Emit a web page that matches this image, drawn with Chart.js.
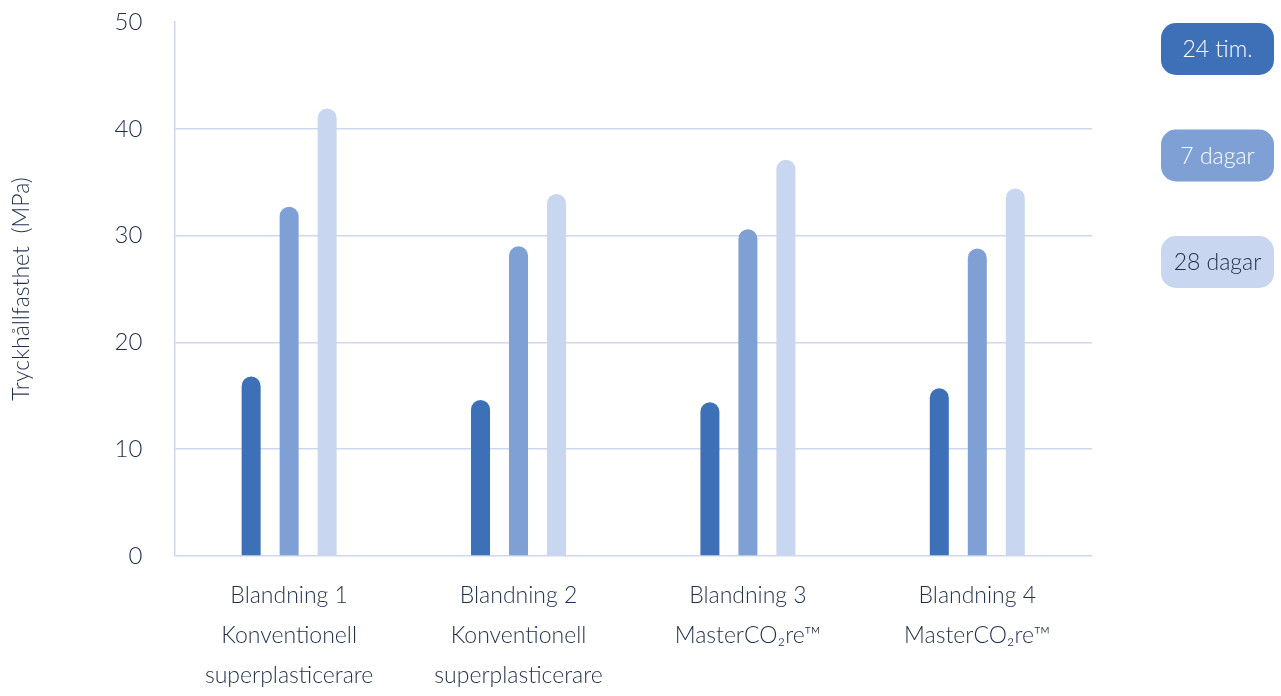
<!DOCTYPE html>
<html>
<head>
<meta charset="utf-8">
<script src="https://cdn.jsdelivr.net/npm/chart.js@4"></script>
<style>
    html, body { margin: 0; padding: 0; background: #ffffff; }
    .chart-wrap { position: relative; width: 1281px; height: 696px; }
</style>
</head>
<body>
<div class="chart-wrap"><canvas id="strengthChart"></canvas></div>
<script>
const categories = [
    ['Blandning 1', 'Konventionell', 'superplasticerare'],
    ['Blandning 2', 'Konventionell', 'superplasticerare'],
    ['Blandning 3', 'MasterCO\u2082re\u2122'],
    ['Blandning 4', 'MasterCO\u2082re\u2122']
];
const seriesLabels = ['24 tim.', '7 dagar', '28 dagar'];
const values24h = [16.8, 14.6, 14.4, 15.7];
const values7d = [32.7, 29.0, 30.6, 28.8];
const values28d = [41.9, 33.9, 37.1, 34.4];
const yTicks = [0, 10, 20, 30, 40, 50];

const textColor = '#1f2e4b';
const gridColor = '#cdd8ef';
const barColors = ['#3e70b7', '#7fa0d4', '#c8d6ef'];
const legendText = ['#ffffff', '#ffffff', '#1f2e4b'];
const fontFamily = 'Lato, "Open Sans", sans-serif';

// pill shaped legend on the right side
const pillLegend = {
    id: 'pillLegend',
    afterDraw(chart) {
        const ctx = chart.ctx;
        const x = 1161, w = 113, h = 52;
        ctx.save();
        chart.data.datasets.forEach((ds, i) => {
            const y = 23 + i * 106.5;
            ctx.beginPath();
            ctx.roundRect(x, y, w, h, 15);
            ctx.fillStyle = ds.backgroundColor;
            ctx.fill();
            ctx.fillStyle = legendText[i];
            ctx.font = '300 23px ' + fontFamily;
            ctx.textAlign = 'center';
            ctx.textBaseline = 'middle';
            ctx.fillText(ds.label, x + w / 2, y + h / 2 + 1);
        });
        ctx.restore();
    }
};

const makeSet = (label, data, color) => ({
    label: label,
    data: data,
    backgroundColor: color,
    hoverBackgroundColor: color,
    borderRadius: { topLeft: 10, topRight: 10, bottomLeft: 0, bottomRight: 0 },
    borderSkipped: false,
    barPercentage: 0.5,
    categoryPercentage: 0.497
});

new Chart(document.getElementById('strengthChart'), {
    type: 'bar',
    data: {
        labels: categories,
        datasets: [
            makeSet(seriesLabels[0], values24h, barColors[0]),
            makeSet(seriesLabels[1], values7d, barColors[1]),
            makeSet(seriesLabels[2], values28d, barColors[2])
        ]
    },
    options: {
        responsive: true, maintainAspectRatio: false,
        animation: false,
        layout: { padding: { left: 8, right: 189, top: 22, bottom: -20 } },
        plugins: {
            legend: { display: false },
            tooltip: { enabled: false }
        },
        scales: {
            x: {
                grid: { display: false, drawTicks: false },
                border: { display: false },
                ticks: {
                    color: textColor,
                    padding: 20,
                    maxRotation: 0,
                    font: { family: fontFamily, size: 23, weight: '300', lineHeight: 1.74 }
                }
            },
            y: {
                min: 0, max: 50,
                afterBuildTicks: (axis) => { axis.ticks = yTicks.map(v => ({ value: v })); },
                // the large tick padding should not push the plot down
                afterFit: (axis) => { axis.paddingTop = 0; axis.paddingBottom = 0; },
                grid: {
                    drawTicks: false,
                    color: (c) => c.tick && c.tick.value === 50 ? 'rgba(0,0,0,0)' : gridColor,
                    lineWidth: 1.5
                },
                border: { display: true, color: gridColor, width: 1.5 },
                ticks: {
                    color: textColor,
                    padding: 32,
                    font: { family: fontFamily, size: 24, weight: '300' }
                },
                title: {
                    display: true,
                    text: 'Tryckhållfasthet  (MPa)',
                    color: textColor,
                    padding: { top: 0, bottom: 47 },
                    font: { family: fontFamily, size: 23, weight: '300' }
                }
            }
        }
    },
    plugins: [pillLegend]
});
</script>
</body>
</html>
